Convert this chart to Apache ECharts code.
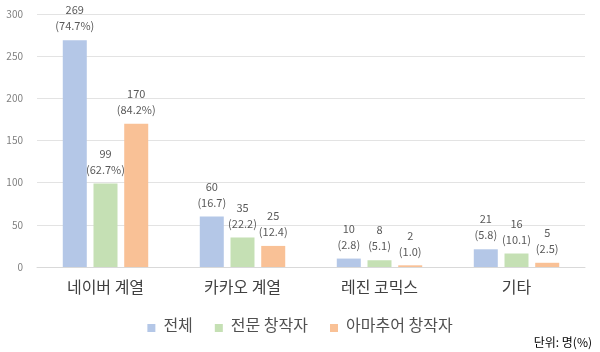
<!DOCTYPE html>
<html>
<head>
<meta charset="utf-8">
<script src="https://cdn.jsdelivr.net/npm/echarts@6/dist/echarts.min.js"></script>
<style>
  html, body { margin: 0; padding: 0; background: #fff; }
  #main { width: 600px; height: 352px; }
</style>
</head>
<body>
<div id="main"></div>
<script>
// 카테고리와 값
var categories = ['네이버 계열', '카카오 계열', '레진 코믹스', '기타'];
var seriesNames = ['전체', '전문 창작자', '아마추어 창작자'];
var totalVals = [269, 60, 10, 21];
var proVals = [99, 35, 8, 16];
var amateurVals = [170, 25, 2, 5];
var totalPct = ['(74.7%)', '(16.7)', '(2.8)', '(5.8)'];
var proPct = ['(62.7%)', '(22.2)', '(5.1)', '(10.1)'];
var amateurPct = ['(84.2%)', '(12.4)', '(1.0)', '(2.5)'];
var yTicks = [0, 50, 100, 150, 200, 250, 300];

var colors = ['#b4c7e7', '#c5e0b4', '#f9c196'];
var font = '"Noto Sans CJK KR", "Noto Sans", sans-serif';

function makeSeries(name, vals, pcts, color) {
  return {
    name: name,
    type: 'bar',
    data: vals,
    barWidth: 24,
    barGap: '28%',
    itemStyle: { color: color },
    label: {
      show: true,
      position: 'top',
      distance: 6,
      color: '#595959',
      fontSize: 11,
      lineHeight: 16,
      fontFamily: font,
      formatter: function (p) { return p.value + '\n' + pcts[p.dataIndex]; }
    }
  };
}

var chart = echarts.init(document.getElementById('main'));
chart.setOption({
  animation: false,
  textStyle: { fontFamily: font },
  grid: { left: 37, right: 15, top: 14, bottom: 85, containLabel: false },
  legend: {
    data: seriesNames,
    bottom: 14,
    left: 'center',
    itemWidth: 8,
    itemHeight: 14,
    itemGap: 22,
    icon: 'path://M0,0L0.01,0ZM0,6L8,6L8,14L0,14Z',
    textStyle: { fontSize: 16, color: '#505050', fontFamily: font, padding: [0, 0, 0, 3] }
  },
  graphic: [{
    type: 'text',
    right: 8,
    bottom: 4,
    style: { text: '단위: 명(%)', fontSize: 12, fill: '#000', fontFamily: font }
  }],
  xAxis: {
    type: 'category',
    data: categories,
    axisLine: { lineStyle: { color: '#d9d9d9' } },
    axisTick: { show: false },
    axisLabel: { fontSize: 16, color: '#404040', margin: 12, fontFamily: font }
  },
  yAxis: {
    type: 'value',
    min: 0,
    max: 300,
    interval: 50,
    axisLabel: {
      fontSize: 10, color: '#7f7f7f', margin: 14, fontFamily: font,
      formatter: function (v) { return yTicks.indexOf(v) >= 0 ? v : ''; }
    },
    splitLine: { lineStyle: { color: '#e3e3e3' } },
    axisLine: { show: false },
    axisTick: { show: false }
  },
  series: [
    makeSeries(seriesNames[0], totalVals, totalPct, colors[0]),
    makeSeries(seriesNames[1], proVals, proPct, colors[1]),
    makeSeries(seriesNames[2], amateurVals, amateurPct, colors[2])
  ]
});
</script>
</body>
</html>
